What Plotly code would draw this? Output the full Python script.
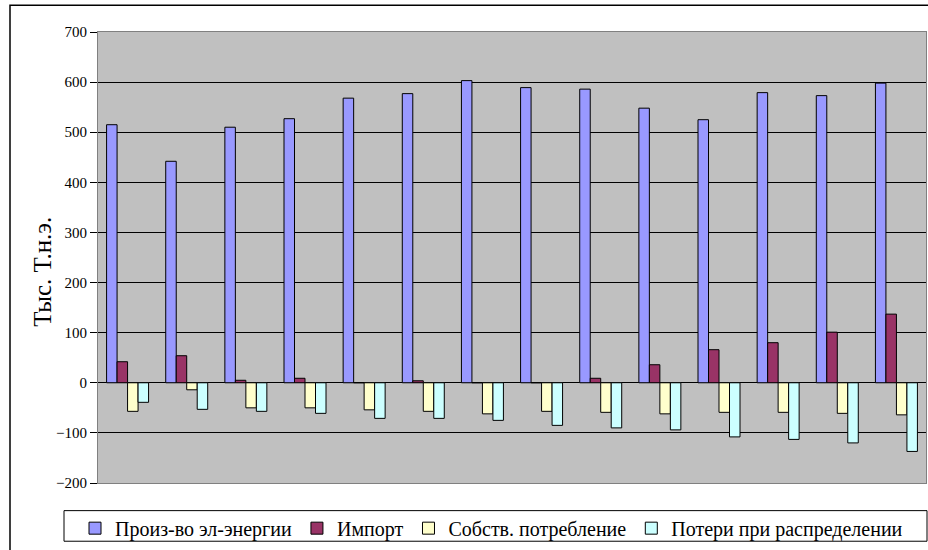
import plotly.graph_objects as go

categories = [str(i) for i in range(1, 15)]
production = [515, 442, 510, 527, 568, 577, 603, 589, 586, 548, 525, 579, 573, 598]
imports = [42, 54, 5, 9, 0, 4, 0, 0, 9, 36, 66, 80, 101, 137]
own_use = [-57, -14, -50, -50, -54, -57, -62, -57, -59, -62, -59, -59, -61, -64]
losses = [-39, -53, -57, -61, -71, -71, -75, -85, -90, -94, -108, -113, -120, -137]

series_names = ["Произ-во эл-энергии", "Импорт", "Собств. потребление", "Потери при распределении"]
series_colors = ["#9999FF", "#993366", "#FFFFCC", "#CCFFFF"]
series_values = [production, imports, own_use, losses]
y_title = "Тыс. Т.н.э."

FONT = "Times New Roman, Liberation Serif, serif"

W, H = 928, 550
L, R, T, B = 98, 2, 32, 61
pw, ph = W - L - R, H - T - B

def px(x):
    return (x - L) / pw

def py(y):
    return (H - B - y) / ph

fig = go.Figure()
for name, color, vals in zip(series_names, series_colors, series_values):
    fig.add_trace(go.Bar(
        x=categories, y=vals, name=name,
        marker=dict(color=color, line=dict(color="black", width=1)),
    ))

border_path = "M {x0} {y0} L {x0} {y1} L {x1} {y1}".format(
    x0=px(10), y0=py(560), y1=py(5), x1=px(928))

fig.update_layout(
    width=W, height=H,
    margin=dict(l=L, r=R, t=T, b=B),
    paper_bgcolor="white",
    plot_bgcolor="#C0C0C0",
    barmode="group",
    bargap=0.29,
    bargroupgap=0,
    font=dict(family=FONT, color="black"),
    showlegend=True,
    legend=dict(
        orientation="h",
        x=px(75), xanchor="left",
        y=py(515), yanchor="top",
        font=dict(size=20, family=FONT),
        bgcolor="rgba(0,0,0,0)",
        traceorder="normal",
        itemwidth=30,
    ),
    xaxis=dict(
        showticklabels=False, showgrid=False, ticks="",
        showline=True, linecolor="#808080", mirror=True,
        zeroline=False,
    ),
    yaxis=dict(
        range=[-200, 700], dtick=100, tick0=0,
        showgrid=True, gridcolor="black", gridwidth=1,
        zeroline=True, zerolinecolor="black", zerolinewidth=1,
        showline=True, linecolor="#808080", mirror=True,
        ticks="outside", ticklen=7, tickcolor="black",
        tickfont=dict(size=15, family=FONT),
    ),
    annotations=[
        dict(text=y_title, xref="paper", yref="paper",
             x=px(43), y=py(275), xanchor="center", yanchor="middle",
             textangle=-90, showarrow=False,
             font=dict(size=25, family=FONT, color="black")),
    ],
    shapes=[
        dict(type="path", xref="paper", yref="paper", path=border_path,
             line=dict(color="black", width=1.5), layer="below"),
        dict(type="rect", xref="paper", yref="paper",
             x0=px(64), x1=px(927), y0=py(548), y1=py(517),
             line=dict(color="black", width=1), fillcolor="rgba(0,0,0,0)", layer="below"),
    ],
)

fig.write_html("out.html")
